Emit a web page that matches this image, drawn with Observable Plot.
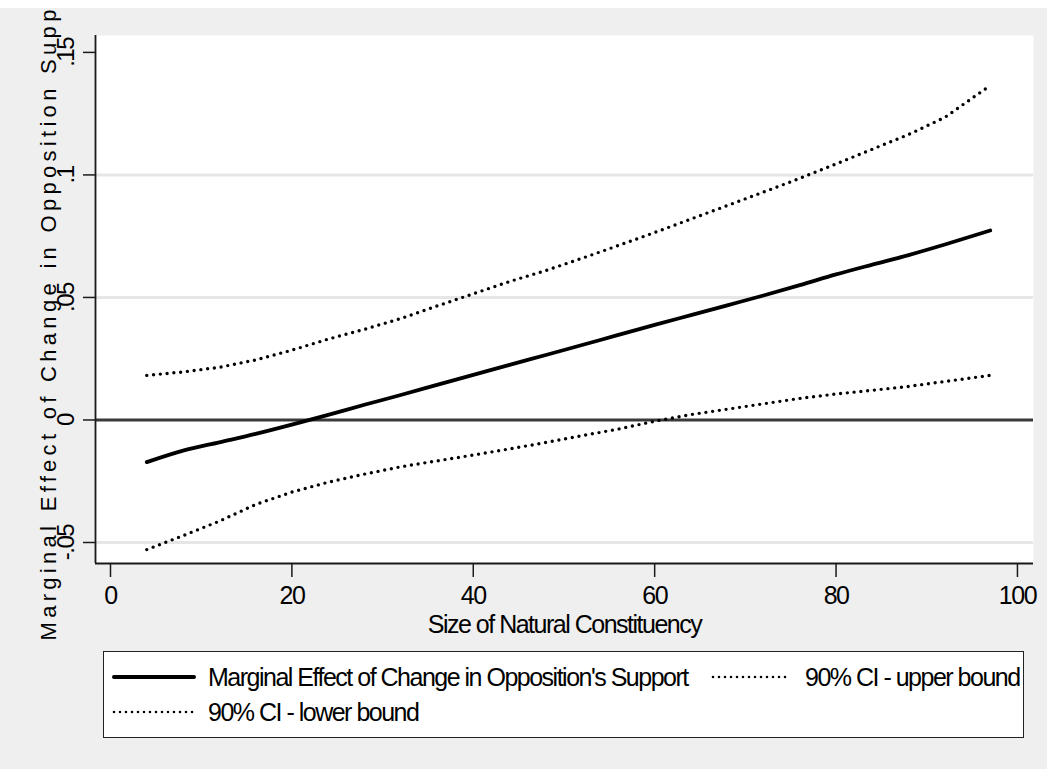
<!DOCTYPE html>
<html>
<head>
<meta charset="utf-8">
<script src="https://cdn.jsdelivr.net/npm/d3@7"></script>
<script src="https://cdn.jsdelivr.net/npm/@observablehq/plot@0.6"></script>
<style>
  html, body { margin: 0; padding: 0; background: #efefef; }
  #topstrip { height: 8px; background: #ffffff; }
  #chart svg { display: block; }
  #legend { margin-left: 103px; margin-top: 6px; width: 921px; height: 87px; box-sizing: border-box;
            border: 1.6px solid #222; background: #fff; position: relative; }
  #legend svg { position: absolute; left: 0; top: 0; }
</style>
</head>
<body>
<div id="topstrip"></div>
<div id="chart"></div>
<div id="legend"></div>
<script>
// ---- data ----
const xVals     = [4, 8, 12, 16, 20, 24, 28, 32, 36, 40, 44, 48, 52, 56, 60, 64, 68, 72, 76, 80, 84, 88, 92, 97];
const estVals   = [-0.0172, -0.0125, -0.0091, -0.0057, -0.0019, 0.0021, 0.0062, 0.0102, 0.0143, 0.0184, 0.0225, 0.0265,
                   0.0306, 0.0347, 0.0388, 0.0428, 0.0468, 0.0508, 0.0550, 0.0594, 0.0634, 0.0673, 0.0716, 0.0773];
const upperVals = [0.0182, 0.0196, 0.0215, 0.0245, 0.0285, 0.0330, 0.0370, 0.0414, 0.0465, 0.0515, 0.0565, 0.0610,
                   0.0660, 0.0712, 0.0765, 0.0820, 0.0875, 0.0930, 0.0986, 0.1045, 0.1105, 0.1165, 0.1235, 0.1365];
const lowerVals = [-0.0529, -0.0472, -0.0413, -0.0345, -0.0294, -0.0254, -0.0221, -0.0191, -0.0167, -0.0143, -0.0118, -0.0092,
                   -0.0064, -0.0037, -0.0005, 0.0022, 0.0044, 0.0066, 0.0088, 0.0106, 0.0121, 0.0137, 0.0157, 0.0182];
const xTicks = [0, 20, 40, 60, 80, 100];
const yTicks = [-0.05, 0, 0.05, 0.1, 0.15];
const yTickLabels = ["-.05", "0", ".05", ".1", ".15"];
const gridVals = [-0.05, 0.05, 0.1];
const zeroVals = [0];
const seriesNames = ["Marginal Effect of Change in Opposition's Support", "90% CI - upper bound", "90% CI - lower bound"];
const xTitle = "Size of Natural Constituency";
const yTitle = "Marginal Effect of Change in Opposition Support";

const xDomain = [-1.654, 101.77];
const yDomain = [-0.05857, 0.1569];

const est   = xVals.map((x, i) => ({x, y: estVals[i]}));
const upper = xVals.map((x, i) => ({x, y: upperVals[i]}));
const lower = xVals.map((x, i) => ({x, y: lowerVals[i]}));

const font = "'Liberation Sans', Arial, Helvetica, sans-serif";
const dots = {stroke: "#000", strokeWidth: 3.4, strokeDasharray: "0 6.8", strokeLinecap: "round", strokeLinejoin: "round"};

const plot = Plot.plot({
  width: 1047,
  height: 637,
  marginTop: 27,
  marginLeft: 95,
  marginRight: 14,
  marginBottom: 82,
  style: {background: "#efefef", fontFamily: font, letterSpacing: "-1.5px", overflow: "hidden"},
  x: {domain: xDomain},
  y: {domain: yDomain},
  marks: [
    Plot.frame({fill: "#fff", stroke: null}),
    Plot.ruleY(gridVals, {stroke: "#e6e6e6", strokeWidth: 3}),
    Plot.ruleY(zeroVals, {stroke: "#3a3a3a", strokeWidth: 3}),
    Plot.line(upper, {x: "x", y: "y", ...dots}),
    Plot.line(lower, {x: "x", y: "y", ...dots}),
    Plot.line(est, {x: "x", y: "y", stroke: "#000", strokeWidth: 3.8, strokeLinecap: "round", curve: "monotone-x"}),
    Plot.ruleX([xDomain[0]], {stroke: "#1a1a1a", strokeWidth: 1.8}),
    Plot.ruleY([yDomain[0]], {stroke: "#1a1a1a", strokeWidth: 1.8}),
    Plot.axisX({ticks: xTicks, tickSize: 14, tickPadding: 9, fontSize: 25, label: null, stroke: "#1a1a1a", strokeWidth: 1.5}),
    Plot.axisY({ticks: yTicks, tickSize: 12, tickFormat: () => "", label: null, stroke: "#1a1a1a", strokeWidth: 1.5}),
    Plot.text(yTicks, {y: d => d, text: (d, i) => yTickLabels[i], frameAnchor: "left", dx: -22, rotate: -90,
                       textAnchor: "middle", lineAnchor: "bottom", fontSize: 24, fill: "#000"}),
    Plot.text([xTitle], {frameAnchor: "bottom", dy: 69, fontSize: 25, fill: "#000", lineAnchor: "bottom"}),
    Plot.text([yTitle], {frameAnchor: "bottom-left", dx: -40, dy: 77, rotate: -90, textAnchor: "start",
                         lineAnchor: "bottom", fontSize: 22, fill: "#000"})
  ]
});
// wide letter spacing for the y title, as in the reference
d3.select(plot).selectAll("text").filter(function() { return this.textContent === yTitle; })
  .style("letter-spacing", "4.3px");
document.getElementById("chart").appendChild(plot);

// ---- legend ----
const lg = d3.select("#legend").append("svg").attr("width", 921).attr("height", 87)
  .style("font-family", font).style("font-size", "25px").style("letter-spacing", "-1.5px");
const items = [
  {name: seriesNames[0], x0: 10, x1: 90, y: 25, tx: 104, solid: true},
  {name: seriesNames[1], x0: 609, x1: 685, y: 25, tx: 701, solid: false},
  {name: seriesNames[2], x0: 10, x1: 90, y: 60, tx: 104, solid: false}
];
items.forEach(it => {
  const l = lg.append("line").attr("x1", it.x0).attr("x2", it.x1).attr("y1", it.y).attr("y2", it.y)
    .attr("stroke", "#000").attr("stroke-linecap", "round");
  if (it.solid) l.attr("stroke-width", 4);
  else l.attr("stroke-width", 2.6).attr("stroke-dasharray", "0 6");
  lg.append("text").attr("x", it.tx).attr("y", it.y + 9).text(it.name);
});
</script>
</body>
</html>
